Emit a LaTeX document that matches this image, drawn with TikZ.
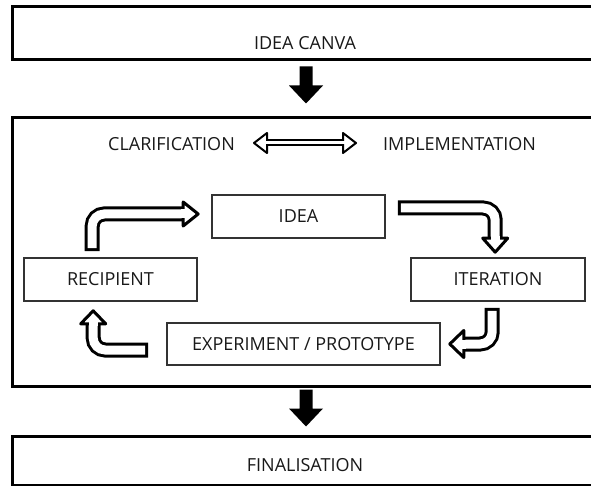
\documentclass[tikz,border=0pt]{standalone}
\usepackage{fontspec}
\setmainfont{Open Sans}
\usetikzlibrary{calc}
\tikzset{
  bigbox/.style={draw=black, line width=3pt, rectangle, inner sep=0pt},
  smallbox/.style={draw=black!80, line width=1.6pt, rectangle, inner sep=0pt,
    minimum height=43pt, font=\fontsize{18}{21}\selectfont, text=black!90},
  lbl/.style={font=\fontsize{18}{21}\selectfont, text=black!90, inner sep=0pt},
  shaftout/.style={draw=black, line width=15pt, rounded corners=12pt},
  shaftin/.style={draw=white, line width=9pt, rounded corners=12pt},
}
\newcommand\hhead[6]{%
  \begin{scope}[shift={#1}, rotate=#2]
    \filldraw[fill=white, draw=black, line width=#6, line join=round] (0,0) -- (-#3,#4) -- (-#3,-#4) -- cycle;
    \draw[white, line width=#5] (-#3-2,0) -- (-#3+2,0);
  \end{scope}}
\newcommand\solidarrow[2]{%
  \begin{scope}[shift={#1}, rotate=#2]
    \fill[black] (0,0) -- (-18,17) -- (-18,6.5) -- (-37,6.5) -- (-37,-6.5) -- (-18,-6.5) -- (-18,-17) -- cycle;
  \end{scope}}
\begin{document}
\begin{tikzpicture}[x=1pt,y=-1pt]
\useasboundingbox (0,0) rectangle (591,486);
\clip (0,0) rectangle (591,486);
\fill[white] (0,0) rectangle (591,486);

% big boxes
\node[bigbox, minimum width=588pt, minimum height=53pt] (canva) at (306,33.5) {};
\node[lbl] (canvat) at (305,43) {IDEA CANVA};
\node[bigbox, minimum width=588pt, minimum height=268pt] (main) at (306,252) {};
\node[bigbox, minimum width=588pt, minimum height=49pt] (fin) at (306,460.5) {};
\node[lbl] (fint) at (305,465) {FINALISATION};

% solid down arrows
\coordinate (d1t) at ($(main.north)+(0,-13)$);
\coordinate (d2t) at ($(fin.north)+(0,-8)$);
\solidarrow{(d1t)}{-90}
\solidarrow{(d2t)}{-90}

% clarification / implementation
\node[lbl] (clar) at (171.5,144.5) {CLARIFICATION};
\node[lbl] (impl) at (459.5,144.5) {IMPLEMENTATION};
\coordinate (dl) at (254,143);
\coordinate (dr) at (356,143);
\draw[black, line width=7pt] ($(dl)+(11,0)$) -- ($(dr)+(-11,0)$);
\draw[white, line width=3pt] ($(dl)+(11,0)$) -- ($(dr)+(-11,0)$);
\hhead{(dl)}{180}{13}{10}{3pt}{2pt}
\hhead{(dr)}{0}{13}{10}{3pt}{2pt}

% inner boxes
\node[smallbox, minimum width=173pt] (idea) at (298.5,216.5) {IDEA};
\node[smallbox, minimum width=173pt] (rec) at (110.5,279.5) {RECIPIENT};
\node[smallbox, minimum width=174pt] (iter) at (498,279.5) {ITERATION};
\node[smallbox, minimum width=273pt, minimum height=42pt] (exp) at (303.5,344) {EXPERIMENT / PROTOTYPE};

% arrow recipient -> idea
\coordinate (a1s) at ($(rec.north west)+(69,-6)$);
\coordinate (a1t) at ($(idea.west)+(-13,-2.5)$);
\draw[shaftout] (a1s) |- ($(a1t)+(-13,0)$);
\draw[shaftin] ($(a1s)+(0,-3)$) |- ($(a1t)+(-13,0)$);
\hhead{(a1t)}{0}{15}{12}{9pt}{3pt}

% arrow idea -> iteration
\coordinate (a2s) at ($(idea.east)+(12,-8.5)$);
\coordinate (a2t) at ($(iter.north west)+(85,-5)$);
\draw[shaftout] (a2s) -| ($(a2t)+(0,-12)$);
\draw[shaftin] ($(a2s)+(3,0)$) -| ($(a2t)+(0,-12)$);
\hhead{(a2t)}{-90}{14}{12.5}{9pt}{3pt}

% arrow iteration -> experiment
\coordinate (a3s) at ($(iter.south west)+(82,6)$);
\coordinate (a3t) at ($(exp.east)+(9,0)$);
\draw[shaftout] (a3s) |- ($(a3t)+(12,0)$);
\draw[shaftin] ($(a3s)+(0,3)$) |- ($(a3t)+(12,0)$);
\hhead{(a3t)}{180}{14}{13.5}{9pt}{3pt}

% arrow experiment -> recipient
\coordinate (a4s) at ($(exp.west)+(-18,6)$);
\coordinate (a4t) at ($(rec.south west)+(70,9)$);
\draw[shaftout] (a4s) -| ($(a4t)+(0,12)$);
\draw[shaftin] ($(a4s)+(-3,0)$) -| ($(a4t)+(0,12)$);
\hhead{(a4t)}{90}{13}{12.5}{9pt}{3pt}
\end{tikzpicture}
\end{document}
